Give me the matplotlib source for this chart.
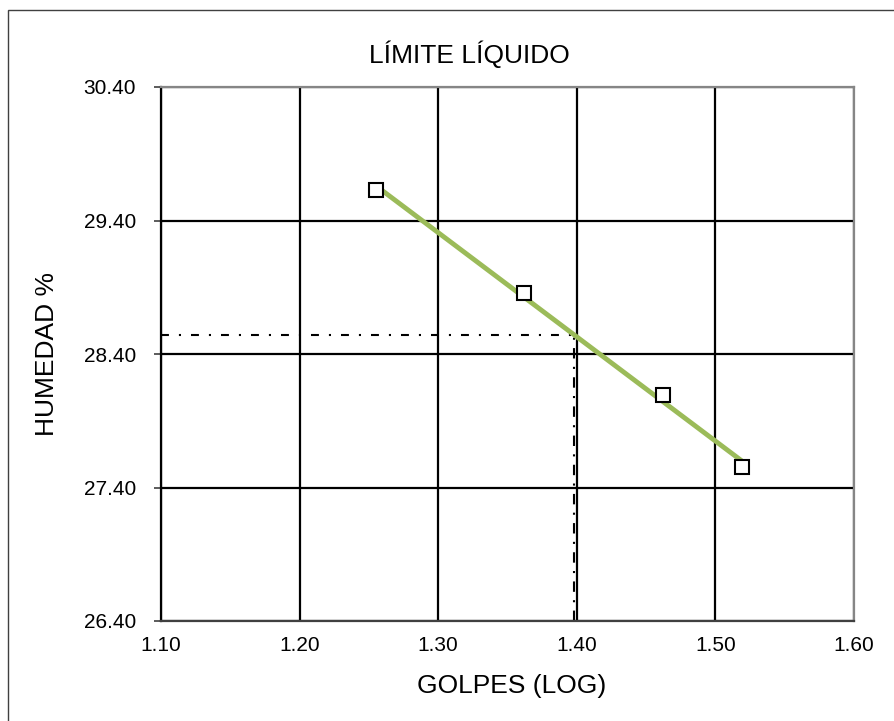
import numpy as np
import matplotlib.pyplot as plt
from matplotlib.patches import Rectangle

plt.rcParams['font.family'] = ['Liberation Sans', 'DejaVu Sans']

# ensayo de limite liquido: log(golpes) vs humedad
log_golpes = [1.255, 1.362, 1.462, 1.519]
humedad = [29.63, 28.86, 28.09, 27.55]
log_25 = 1.398  # log10(25 golpes)

x_ticks = [1.10, 1.20, 1.30, 1.40, 1.50, 1.60]
y_ticks = [26.40, 27.40, 28.40, 29.40, 30.40]

W, H = 895, 721
fig = plt.figure(figsize=(W / 100, H / 100), dpi=100)
ax = fig.add_axes([161 / W, 1 - 621 / H, (854 - 161) / W, (621 - 87) / H])

# recta de tendencia
m, b = np.polyfit(log_golpes, humedad, 1)
xt = np.array([min(log_golpes), max(log_golpes)])
ax.plot(xt, m * xt + b, color='#9BBB59', lw=3.5, zorder=3, solid_capstyle='butt')

ax.plot(log_golpes, humedad, ls='none', marker='s', ms=10, mfc='white',
        mec='black', mew=1.5, zorder=4)

# humedad a 25 golpes
ll = m * log_25 + b
ax.plot([x_ticks[0], log_25], [ll, ll], color='black', lw=1.5,
        dashes=(3.8, 4.8, 1, 4.8), zorder=2)
ax.plot([log_25, log_25], [y_ticks[0], ll], color='black', lw=1.5,
        dashes=(5, 4, 1, 4), zorder=2)

ax.set_xlim(x_ticks[0], x_ticks[-1])
ax.set_ylim(y_ticks[0], y_ticks[-1])
ax.set_xticks(x_ticks)
ax.set_yticks(y_ticks)
ax.set_xticklabels([f'{v:.2f}' for v in x_ticks])
ax.set_yticklabels([f'{v:.2f}' for v in y_ticks])
ax.grid(True, color='black', lw=1.6, zorder=1)
ax.set_axisbelow(True)
ax.tick_params(axis='x', length=0, pad=11, labelsize=15)
ax.tick_params(axis='y', length=5, width=1.2, pad=13, labelsize=15, color='#404040')

ax.spines['left'].set_color('black')
ax.spines['bottom'].set_color('#404040')
for s in ['top', 'right']:
    ax.spines[s].set_color('#868686')
for s in ax.spines.values():
    s.set_linewidth(1.6)

fig.text(469 / W, 1 - 54 / H, 'LÍMITE LÍQUIDO', ha='center', va='center', fontsize=19)
fig.text(512 / W, 1 - 686 / H, 'GOLPES (LOG)', ha='center', va='center', fontsize=19)
fig.text(47 / W, 1 - 354 / H, 'HUMEDAD %', ha='center', va='center',
         rotation=90, fontsize=19)

# borde del area del grafico
fig.patches.append(Rectangle((8 / W, -0.1), 1.2, 1 - 10 / H + 0.1,
                             transform=fig.transFigure, fill=False,
                             edgecolor='#404040', lw=1.0))

fig.savefig('out.png', dpi=100, facecolor='white')
